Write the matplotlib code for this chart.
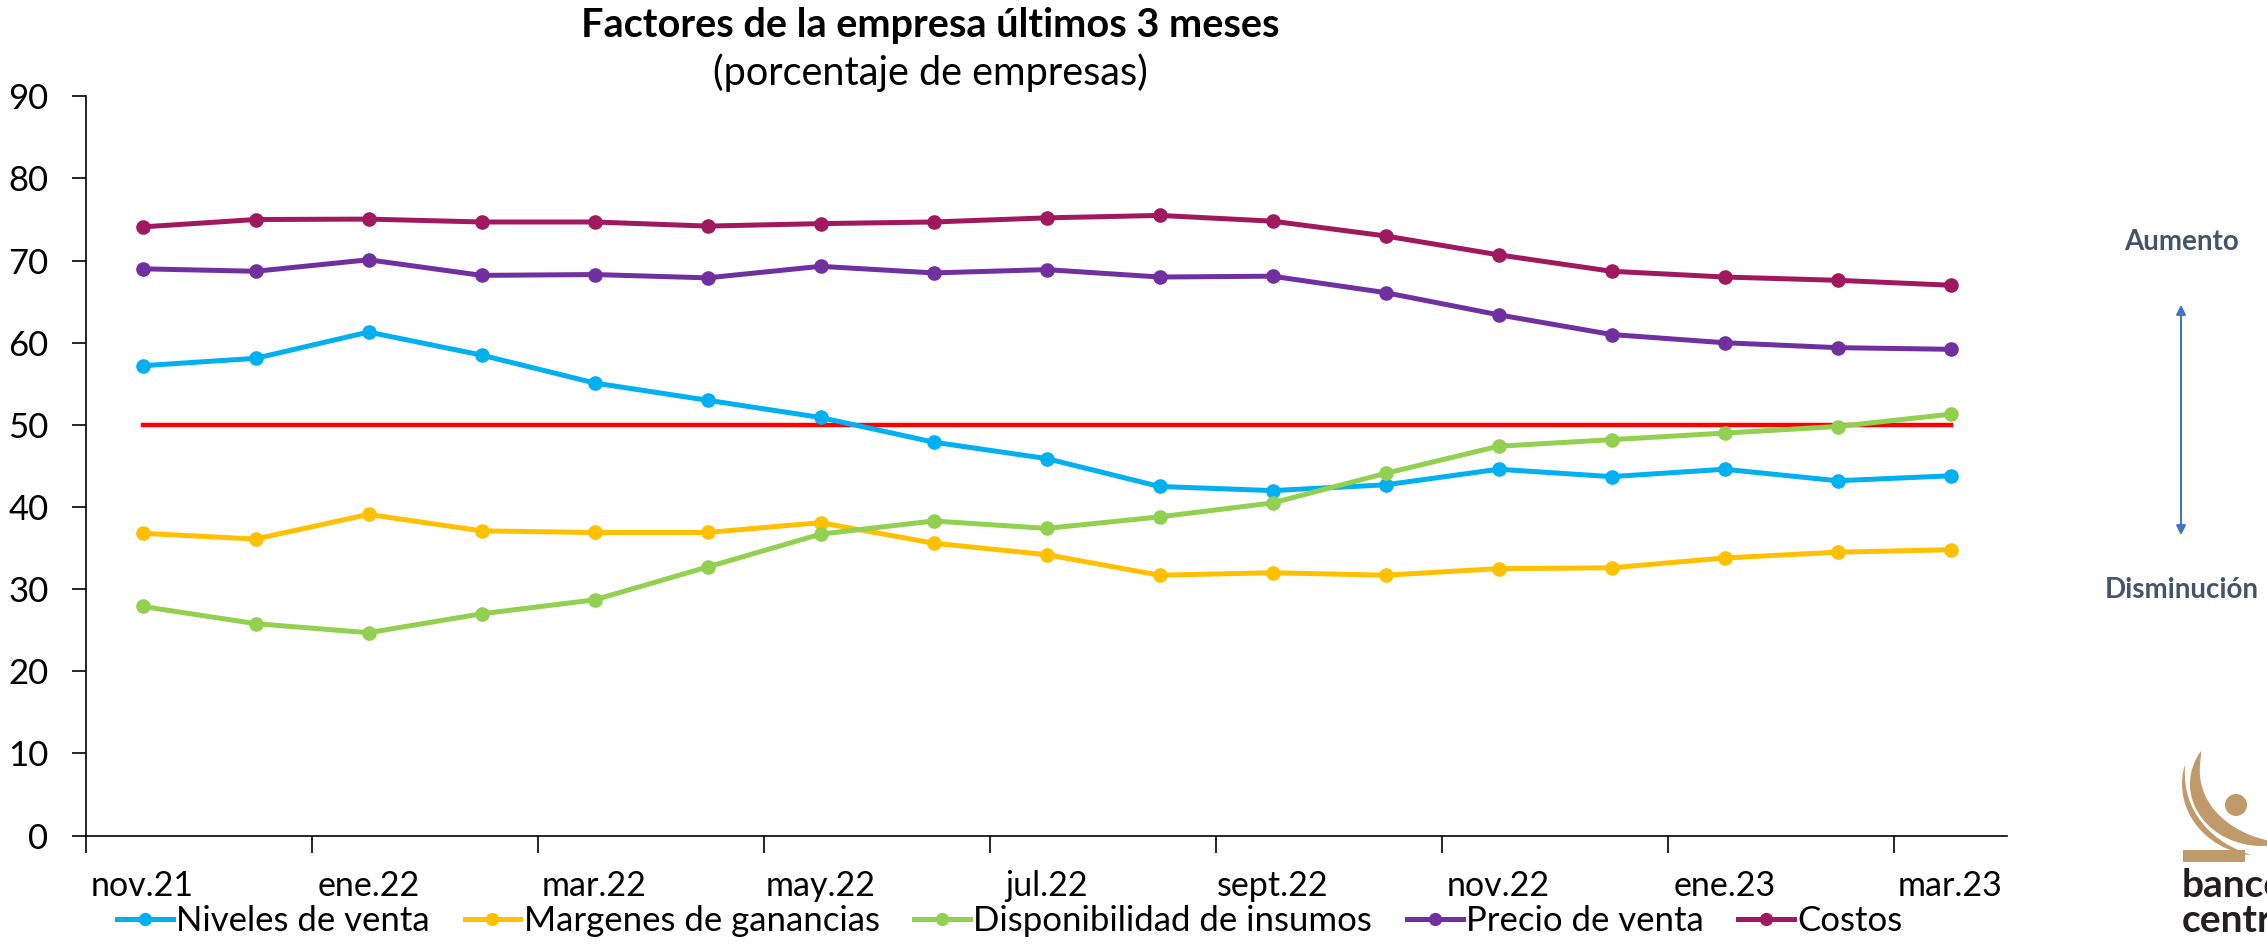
import matplotlib
matplotlib.use('Agg')
from matplotlib import pyplot as plt
from matplotlib.patches import Polygon, Rectangle, Circle, FancyArrowPatch
import numpy as np

plt.rcParams['font.family'] = ['Lato', 'DejaVu Sans']

# months nov.21 .. mar.23
months = ['nov.21', 'dic.21', 'ene.22', 'feb.22', 'mar.22', 'abr.22', 'may.22', 'jun.22',
          'jul.22', 'ago.22', 'sept.22', 'oct.22', 'nov.22', 'dic.22', 'ene.23', 'feb.23', 'mar.23']

niveles_venta = [57.2, 58.1, 61.3, 58.5, 55.1, 53.0, 50.9, 47.9, 45.9, 42.5, 42.0, 42.7,
                 44.6, 43.7, 44.6, 43.2, 43.8]
margenes = [36.8, 36.1, 39.1, 37.1, 36.9, 36.9, 38.1, 35.6, 34.2, 31.7, 32.0, 31.7,
            32.5, 32.6, 33.8, 34.5, 34.8]
disponibilidad = [27.9, 25.8, 24.7, 27.0, 28.7, 32.7, 36.7, 38.3, 37.4, 38.8, 40.5, 44.1,
                  47.4, 48.2, 49.0, 49.8, 51.3]
precio_venta = [69.0, 68.7, 70.1, 68.2, 68.3, 67.9, 69.3, 68.5, 68.9, 68.0, 68.1, 66.1,
                63.4, 61.0, 60.0, 59.4, 59.2]
costos = [74.1, 75.0, 75.05, 74.7, 74.7, 74.2, 74.5, 74.7, 75.2, 75.5, 74.8, 73.0,
          70.7, 68.7, 68.0, 67.6, 67.0]
umbral = 50

series = [
    ('Niveles de venta', niveles_venta, '#00B0F0'),
    ('Margenes de ganancias', margenes, '#FFC000'),
    ('Disponibilidad de insumos', disponibilidad, '#92D050'),
    ('Precio de venta', precio_venta, '#7030A0'),
    ('Costos', costos, '#A0195E'),
]

W, H = 2267, 944
fig = plt.figure(figsize=(W / 100, H / 100), dpi=100)
ax = fig.add_axes([86 / W, 1 - 835.6 / H, (2007 - 86) / W, (835.6 - 96.3) / H])

x = np.arange(len(months))
ax.plot([x[0], x[-1]], [umbral, umbral], color='#FF0000', lw=3.2, zorder=2)
for name, vals, col in series:
    ax.plot(x, vals, color=col, lw=3.6, marker='o', markersize=9.5, label=name, zorder=3)

ax.set_xlim(-0.5, len(months) - 0.5)
ax.set_ylim(0, 90)
ax.set_yticks(range(0, 91, 10))

# tick marks between every second month, labels on the months
ax.set_xticks(np.arange(-0.5, len(months) - 1, 2))
ax.set_xticklabels([])
ax.set_xticks(x[::2], minor=True)
ax.set_xticklabels(months[::2], minor=True)
ax.tick_params(axis='x', which='major', length=12, width=1.2, direction='out')
ax.tick_params(axis='x', which='minor', length=0, pad=25, labelsize=24.5)
ax.tick_params(axis='y', length=10, width=1.2, pad=17, labelsize=25)

for s in ['top', 'right']:
    ax.spines[s].set_visible(False)
for s in ['left', 'bottom']:
    ax.spines[s].set_linewidth(1.2)

fig.text(930 / W, 1 - 26 / H, 'Factores de la empresa últimos 3 meses', ha='center',
         va='center', fontsize=28.5, fontweight='bold')
fig.text(930 / W, 1 - 73 / H, '(porcentaje de empresas)', ha='center', va='center',
         fontsize=28.5)

fig.legend(loc='center', bbox_to_anchor=(1010 / W, 1 - 921 / H), ncol=5, frameon=False,
           fontsize=25, handlelength=1.6, handletextpad=0.1, columnspacing=1.0,
           borderpad=0, markerscale=0.9)

# Aumento / Disminucion annotation
fig.text(2182 / W, 1 - 242 / H, 'Aumento', ha='center', va='center', fontsize=20,
         fontweight='bold', color='#44546A')
fig.text(2182 / W, 1 - 590 / H, 'Disminución', ha='center', va='center', fontsize=20,
         fontweight='bold', color='#44546A')
fig.patches.append(FancyArrowPatch((2181 / W, 1 - 302 / H), (2181 / W, 1 - 538 / H),
                                   transform=fig.transFigure, arrowstyle='<|-|>',
                                   mutation_scale=14, color='#4472C4', lw=1.5))

# logo (pixel coords, y up)
lax = fig.add_axes([0, 0, 1, 1], zorder=-1)
lax.set_xlim(0, W)
lax.set_ylim(0, H)
lax.axis('off')
gold = '#C19A6B'


def band(c, rx, ry, w, a0, a1):
    t = np.linspace(a0, a1, 80)
    wt = w * np.sin(np.pi * (t - a0) / (a1 - a0)) ** 0.7
    tr = np.radians(t)
    outer = np.c_[c[0] + rx * np.cos(tr), c[1] + ry * np.sin(tr)]
    inner = np.c_[c[0] + (rx - wt) * np.cos(tr), c[1] + (ry - wt) * np.sin(tr)]
    return Polygon(np.vstack([outer, inner[::-1]]), closed=True, color=gold, lw=0)


lax.add_patch(band((2262, 160), 80, 72, 6, 165, 262))
lax.add_patch(band((2262, 160), 72, 62, 15, 148, 285))
lax.add_patch(Circle((2236, 139), 11, color=gold, lw=0))
lax.add_patch(Rectangle((2183, 82), 62, 12, color=gold, lw=0))
lax.text(2182, 47, 'banco', fontsize=28, fontweight='bold', color='#231F20')
lax.text(2182, 12, 'central', fontsize=28, fontweight='bold', color='#231F20')

fig.savefig('out.png', dpi=100)
